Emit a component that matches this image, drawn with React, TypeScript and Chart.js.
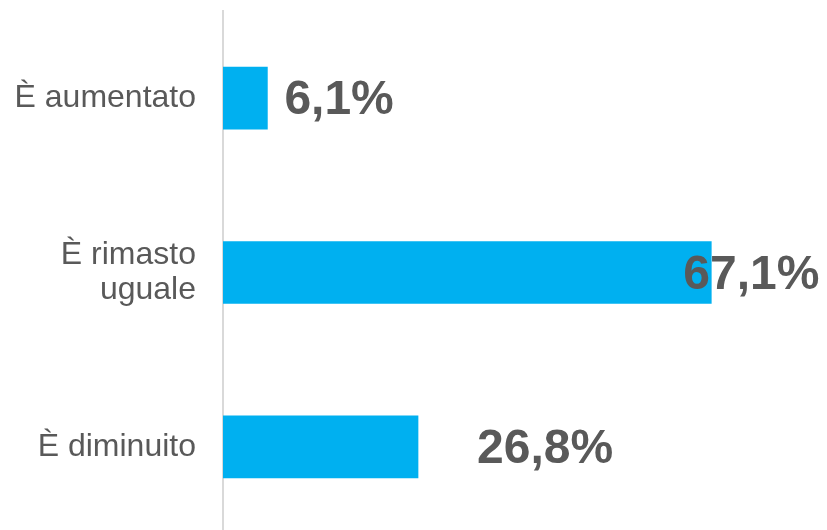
import React, { useEffect, useRef } from "react";
import { Chart, registerables } from "chart.js";

Chart.register(...registerables);

const categories: (string | string[])[] = ["È aumentato", ["È rimasto", "uguale"], "È diminuito"];
const values: number[] = [6.1, 67.1, 26.8];
const valueLabels: string[] = ["6,1%", "67,1%", "26,8%"];
const labelOffsets: number[] = [17, -28, 59];

const FONT = '"Liberation Sans", Arial, sans-serif';

export default function App() {
  const ref = useRef<HTMLCanvasElement | null>(null);

  useEffect(() => {
    if (!ref.current) return;
    const labelPlugin = {
      id: "valueLabels",
      afterDatasetsDraw(chart: any) {
        const ctx = chart.ctx;
        const meta = chart.getDatasetMeta(0);
        ctx.save();
        ctx.font = `bold 48px ${FONT}`;
        ctx.fillStyle = "#595959";
        ctx.textAlign = "left";
        ctx.textBaseline = "middle";
        meta.data.forEach((el: any, i: number) => {
          ctx.fillText(valueLabels[i], el.x + labelOffsets[i], el.y + 3);
        });
        ctx.restore();
      },
    };
    const chart = new Chart(ref.current, {
      type: "bar",
      data: {
        labels: categories,
        datasets: [
          {
            data: values,
            backgroundColor: "#00B0F0",
            borderWidth: 0,
            barThickness: 62,
          },
        ],
      },
      options: {
        indexAxis: "y",
        animation: false,
        responsive: false,
        maintainAspectRatio: false,
        layout: { padding: { top: 11, bottom: 0, left: 0, right: 0 } },
        plugins: {
          legend: { display: false },
          tooltip: { enabled: false },
        },
        scales: {
          x: {
            display: false,
            min: 0,
            max: 83,
          },
          y: {
            grid: { display: false, drawTicks: false },
            border: { display: true, color: "#D9D9D9", width: 2 },
            ticks: {
              color: "#595959",
              padding: 27,
              font: { family: FONT, size: 32, lineHeight: 1.1 },
            },
            afterFit(scale: any) {
              scale.width = 223;
              scale.paddingTop = 0;
              scale.paddingBottom = 0;
            },
          },
        },
      },
      plugins: [labelPlugin],
    });
    return () => chart.destroy();
  }, []);

  return (
    <div
      style={{
        position: "fixed",
        left: 0,
        top: 0,
        width: 827,
        height: 530,
        overflow: "hidden",
        background: "#fff",
      }}
    >
      <canvas ref={ref} width={827} height={534} style={{ display: "block" }} />
    </div>
  );
}
